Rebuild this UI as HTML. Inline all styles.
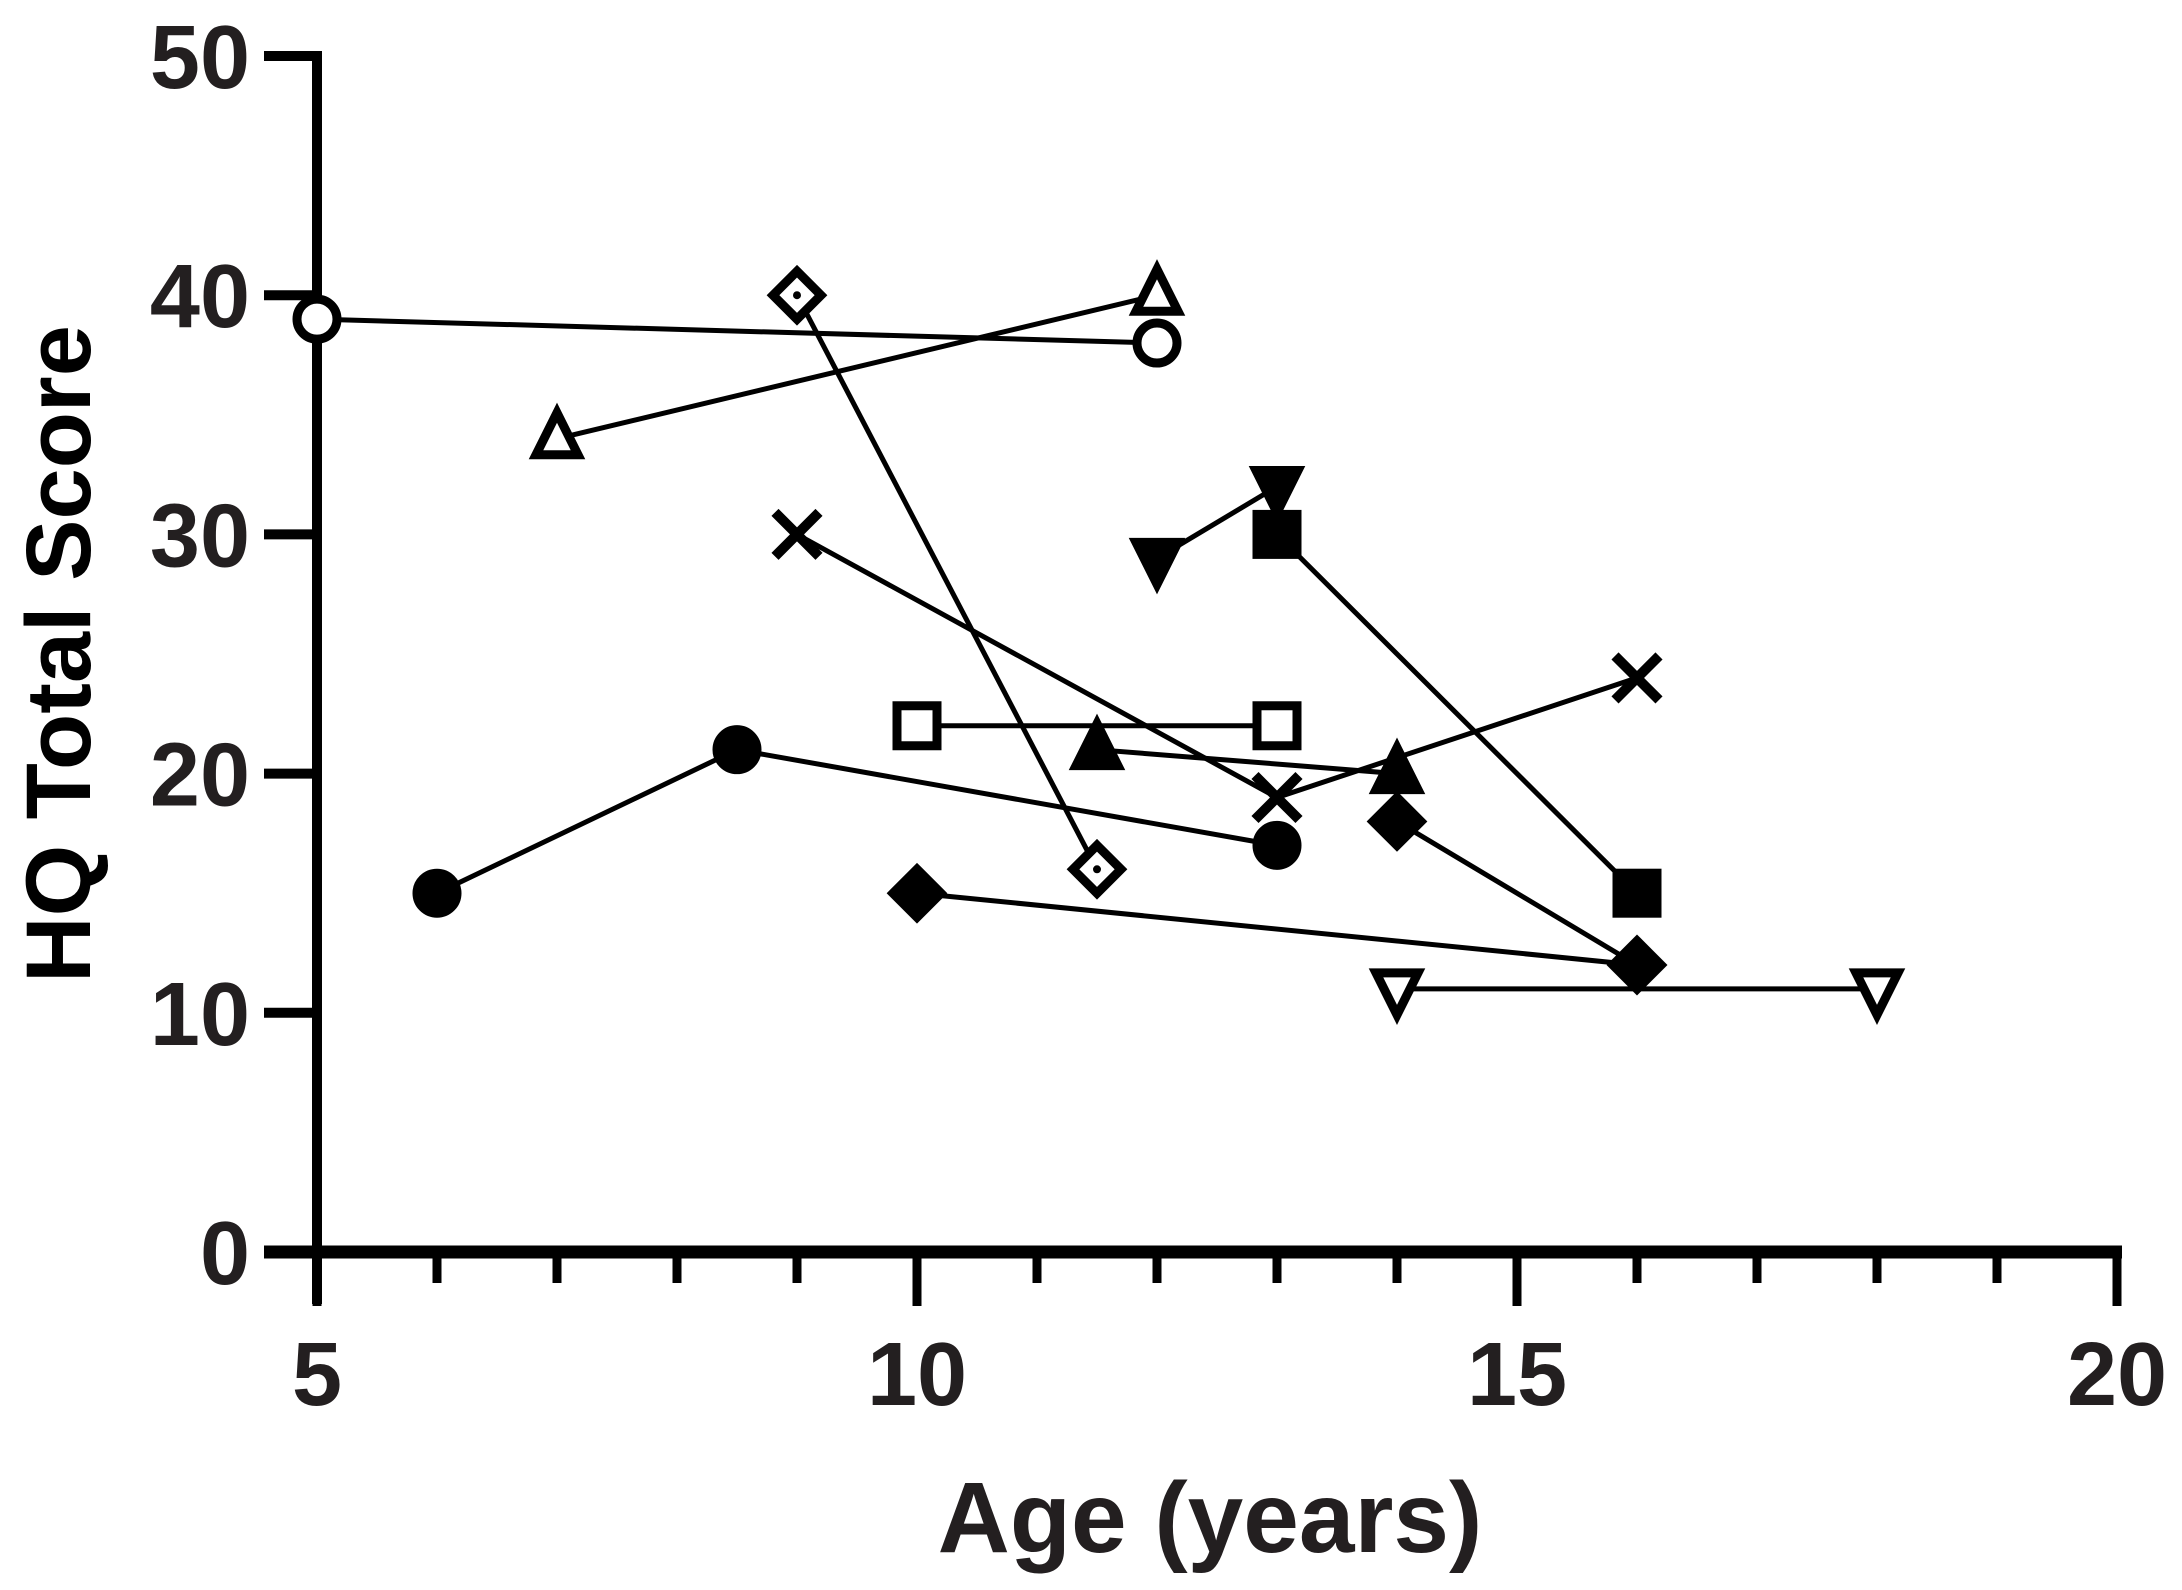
<!DOCTYPE html>
<html><head><meta charset="utf-8"><style>
body{margin:0;background:#fff;}
svg{display:block;font-family:"Liberation Sans",Arial,sans-serif;font-weight:bold;}
</style></head><body>
<svg id="chart" width="2182" height="1590" viewBox="0 0 2182 1590">
<g id="axes"></g>
<g id="series"></g>
<text x="1210" y="1552" font-size="100" text-anchor="middle" fill="#231f20">Age (years)</text>
<text transform="translate(90,654) rotate(-90)" font-size="92" text-anchor="middle" fill="#000">HQ Total  Score</text>
</svg>
<script>
const xTicks=[5,10,15,20];
const yTicks=[0,10,20,30,40,50];
const sCircleOpenX=[5,12], sCircleOpenY=[39,38];
const sTriOpenX=[7,12], sTriOpenY=[34,40];
const sDiamondOpenX=[9,11.5], sDiamondOpenY=[40,16];
const sCrossX=[9,13,16], sCrossY=[30,19,24];
const sTriDownX=[12,13], sTriDownY=[29,32];
const sSquareX=[13,16], sSquareY=[30,15];
const sSquareOpenX=[10,13], sSquareOpenY=[22,22];
const sCircleX=[6,8.5,13], sCircleY=[15,21,17];
const sTriX=[11.5,14], sTriY=[21,20];
const sDiamondAX=[10,16], sDiamondAY=[15,12];
const sDiamondBX=[14,16], sDiamondBY=[18,12];
const sTriDownOpenX=[14,18], sTriDownOpenY=[11,11];

const X=v=>317+(v-5)*120.0;
const Y=v=>1252-v*23.92;
const NS="http://www.w3.org/2000/svg";
function mk(tag,attrs,parent){const e=document.createElementNS(NS,tag);for(const k in attrs)e.setAttribute(k,attrs[k]);parent.appendChild(e);return e;}
const axes=document.getElementById('axes');
let e;
e=mk('line',{x1:X(5),y1:Y(50)-5,x2:X(5),y2:Y(0)+52,stroke:'#000','stroke-width':10},axes);


e=mk('line',{x1:264,y1:Y(0),x2:X(20)+5,y2:Y(0),stroke:'#000','stroke-width':13},axes);


yTicks.forEach(t=>{
 e=mk('line',{x1:264,y1:Y(t),x2:X(5),y2:Y(t),stroke:'#000','stroke-width':10},axes);
 
 
 e=mk('text',{x:250,y:Y(t)+32,'font-size':90,'text-anchor':'end',fill:'#231f20'},axes);
 e.textContent=t;
 
 
});
for(let v=5;v<=20;v++){
 const major=xTicks.includes(v);
 e=mk('line',{x1:X(v),y1:Y(0),x2:X(v),y2:major?1306:1283,stroke:'#000','stroke-width':9},axes);
 
 
}
xTicks.forEach(t=>{
 e=mk('text',{x:X(t),y:1405,'font-size':90,'text-anchor':'middle',fill:'#231f20'},axes);
 e.textContent=t;
 
 
});
const sg=document.getElementById('series');
function marker(kind,cx,cy,g){
 let m;
 const s={stroke:'#000','stroke-width':9};
 if(kind==='circle'||kind==='circleOpen'){m=mk('circle',Object.assign({cx,cy,r:20,fill:kind==='circle'?'#000':'#fff'},s),g);}
 else if(kind==='square'||kind==='squareOpen'){m=mk('rect',Object.assign({x:cx-20,y:cy-20,width:40,height:40,fill:kind==='square'?'#000':'#fff'},s),g);}
 else if(kind==='tri'||kind==='triOpen'){m=mk('polygon',Object.assign({points:`${cx},${cy-26} ${cx+21},${cy+16} ${cx-21},${cy+16}`,fill:kind==='tri'?'#000':'#fff'},s),g);}
 else if(kind==='triDown'||kind==='triDownOpen'){m=mk('polygon',Object.assign({points:`${cx},${cy+26} ${cx+21},${cy-16} ${cx-21},${cy-16}`,fill:kind==='triDown'?'#000':'#fff'},s),g);}
 else if(kind==='diamond'||kind==='diamondOpen'){m=mk('polygon',Object.assign({points:`${cx},${cy-24} ${cx+24},${cy} ${cx},${cy+24} ${cx-24},${cy}`,fill:kind==='diamond'?'#000':'#fff'},s),g);
   if(kind==='diamondOpen'){const d=mk('circle',{cx,cy,r:4,fill:'#000'},g);}}
 else if(kind==='cross'){m=mk('path',{d:`M${cx-22},${cy-22}L${cx+22},${cy+22}M${cx+22},${cy-22}L${cx-22},${cy+22}`,stroke:'#000','stroke-width':10},g);}
 
 
}
function series(name,kind,xs,ys){
 const g=mk('g',{},sg);
 
 
 const p=mk('polyline',{points:xs.map((x,i)=>X(x)+','+Y(ys[i])).join(' '),fill:'none',stroke:'#000','stroke-width':5},g);
 
 
 xs.forEach((x,i)=>marker(kind,X(x),Y(ys[i]),g));
}
series('circle-open','circleOpen',sCircleOpenX,sCircleOpenY);
series('triangle-open','triOpen',sTriOpenX,sTriOpenY);
series('diamond-open','diamondOpen',sDiamondOpenX,sDiamondOpenY);
series('cross','cross',sCrossX,sCrossY);
series('triangle-down','triDown',sTriDownX,sTriDownY);
series('square','square',sSquareX,sSquareY);
series('square-open','squareOpen',sSquareOpenX,sSquareOpenY);
series('circle','circle',sCircleX,sCircleY);
series('triangle','tri',sTriX,sTriY);
series('diamond-a','diamond',sDiamondAX,sDiamondAY);
series('diamond-b','diamond',sDiamondBX,sDiamondBY);
series('triangle-down-open','triDownOpen',sTriDownOpenX,sTriDownOpenY);
</script>
</body></html>
